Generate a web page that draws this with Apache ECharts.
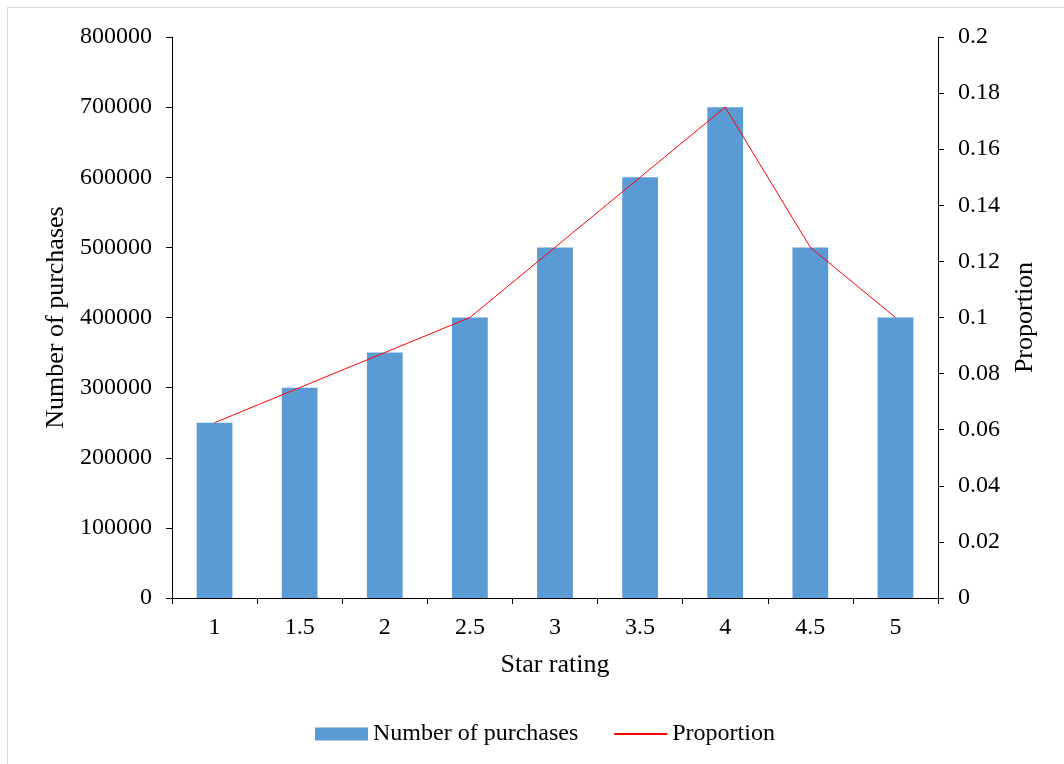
<!DOCTYPE html>
<html>
<head>
<meta charset="utf-8">
<script src="https://cdn.jsdelivr.net/npm/echarts@6/dist/echarts.min.js"></script>
<style>
html,body{margin:0;padding:0;background:#fff;}
#frame{position:absolute;left:7px;top:7px;width:1070px;height:770px;border:1px solid #d9d9d9;box-sizing:border-box;}
#main{position:absolute;left:0;top:0;width:1064px;height:764px;}
</style>
</head>
<body>
<div id="frame"></div>
<div id="main"></div>
<script>
const categories = ['1','1.5','2','2.5','3','3.5','4','4.5','5'];
const purchases = [250000,300000,350000,400000,500000,600000,700000,500000,400000];
const proportion = [0.0625,0.075,0.0875,0.1,0.125,0.15,0.175,0.125,0.1];
const leftTicks = {min:0, max:800000, interval:100000};
const rightTicks = {min:0, max:0.2, interval:0.02};

const font = 'Liberation Serif, Times New Roman, serif';
const chart = echarts.init(document.getElementById('main'), null, {renderer:'canvas'});
const axisLine = {show:true, lineStyle:{color:'#000', width:1}};
chart.setOption({
  animation:false,
  textStyle:{fontFamily:font, color:'#000'},
  grid:{left:172, right:126, top:37, bottom:166},
  legend:{
    bottom:13, left:310, itemWidth:53, itemHeight:13, itemGap:35,
    textStyle:{fontFamily:font, fontSize:24, color:'#000'},
    data:[{name:'Number of purchases', icon:'rect'},{name:'Proportion', itemStyle:{opacity:0}}]
  },
  xAxis:{
    type:'category', data:categories, boundaryGap:true,
    name:'Star rating', nameLocation:'middle', nameGap:54,
    nameTextStyle:{fontFamily:font, fontSize:26, color:'#000'},
    axisLine:axisLine,
    axisTick:{show:true, length:6, lineStyle:{color:'#000'}},
    axisLabel:{fontFamily:font, fontSize:24, color:'#000', margin:18}
  },
  yAxis:[{
    type:'value', min:leftTicks.min, max:leftTicks.max, interval:leftTicks.interval,
    name:'Number of purchases', nameLocation:'middle', nameGap:101, nameRotate:90,
    nameTextStyle:{fontFamily:font, fontSize:26, color:'#000'},
    axisLine:axisLine,
    axisTick:{show:true, length:6, lineStyle:{color:'#000'}},
    splitLine:{show:false},
    axisLabel:{fontFamily:font, fontSize:24, color:'#000', margin:20,
      formatter:function(v){return String(v);}}
  },{
    type:'value', min:rightTicks.min, max:rightTicks.max, interval:rightTicks.interval,
    position:'right',
    name:'Proportion', nameLocation:'middle', nameGap:74, nameRotate:90,
    nameTextStyle:{fontFamily:font, fontSize:26, color:'#000'},
    axisLine:axisLine,
    axisTick:{show:true, length:6, lineStyle:{color:'#000'}},
    splitLine:{show:false},
    axisLabel:{fontFamily:font, fontSize:24, color:'#000', margin:20,
      formatter:function(v){return String(parseFloat(v.toFixed(4)));}}
  }],
  series:[{
    name:'Number of purchases', type:'bar', data:purchases, barWidth:'42%',
    itemStyle:{color:'#5B9BD5'}
  },{
    name:'Proportion', type:'line', yAxisIndex:1, data:proportion,
    symbol:'none', lineStyle:{color:'#FF0000', width:1}, itemStyle:{color:'#FF0000'}
  }]
});
</script>
</body>
</html>
